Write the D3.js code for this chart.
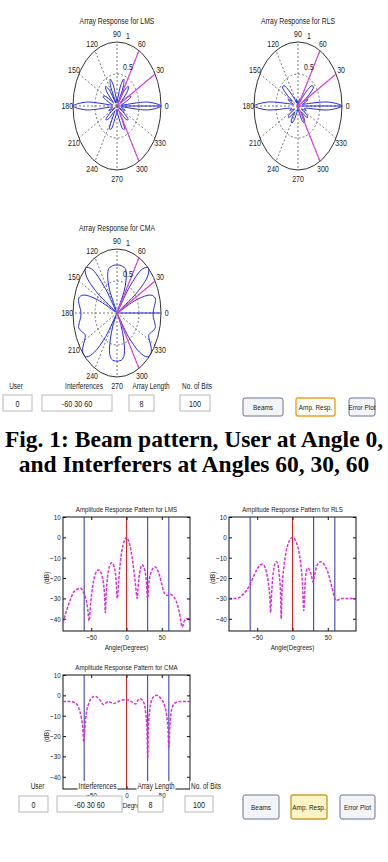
<!DOCTYPE html>
<html>
<head>
<meta charset="utf-8">
<script src="https://cdn.jsdelivr.net/npm/d3@7/dist/d3.min.js"></script>
<style>
  body { margin: 0; background: #fff; }
  svg { display: block; }
</style>
</head>
<body>
<script>
// ---- values ----

// angles (deg) where the polar patterns were read; 90..270 is the mirror image
const polarAngles = [-90, -85, -80, -75, -70, -65, -60, -55, -50, -45, -40, -35, -30, -25, -20, -15, -10, -5, 0,
    5, 10, 15, 20, 25, 30, 35, 40, 45, 50, 55, 60, 65, 70, 75, 80, 85, 90];
const lmsPolar = [0.05, 0.1, 0.15, 0.25, 0.38, 0.4, 0.15, 0.1, 0.15, 0.3, 0.33, 0.2, 0.05, 0.15, 0.2, 0.12, 0.1, 0.7, 1,
    0.7, 0.1, 0.15, 0.25, 0.35, 0.3, 0.1, 0.2, 0.35, 0.4, 0.3, 0.05, 0.35, 0.45, 0.35, 0.15, 0.08, 0.05];
const rlsPolar = [0.03, 0.04, 0.06, 0.12, 0.2, 0.28, 0.3, 0.25, 0.12, 0.2, 0.28, 0.26, 0.1, 0.12, 0.2, 0.15, 0.2, 0.7, 1,
    0.7, 0.2, 0.1, 0.2, 0.25, 0.15, 0.3, 0.46, 0.45, 0.3, 0.12, 0.05, 0.1, 0.12, 0.08, 0.05, 0.03, 0.03];
const cmaPolar = [0.75, 0.75, 0.73, 0.65, 0.45, 0.22, 0.04, 0.45, 0.8, 0.97, 1, 0.95, 0.85, 0.8, 0.85, 0.9, 0.87, 0.83, 0.82,
    0.84, 0.88, 0.9, 0.82, 0.5, 0.04, 0.55, 0.92, 1, 0.9, 0.5, 0.04, 0.4, 0.62, 0.72, 0.74, 0.75, 0.75];

// amplitude response (dB) against angle
const lmsAngles = [-90, -85, -80, -75, -70, -65, -61, -57, -55, -53, -51, -48, -45, -42, -39, -36, -33, -31, -30, -29,
    -27, -24, -21, -18, -15, -13, -11, -8, -5, -2, 0, 2, 5, 8, 11, 13, 15, 17, 20, 22, 25, 28, 30, 32, 35, 38, 41, 44,
    47, 50, 53, 55, 58, 62, 65, 70, 75, 79, 82, 86, 90];
const lmsDb = [-42, -36, -31, -27, -25.5, -25, -27, -31, -35, -41, -33, -24, -19, -16.5, -16, -17.5, -22, -29, -37, -29,
    -20, -14, -12.5, -14, -20, -30, -21, -10, -4, -0.8, 0, -0.8, -4, -10, -18, -24, -30, -22, -15, -13.5, -15, -21, -30,
    -22, -17, -15, -14.5, -16, -19, -23, -27, -28, -28.5, -28, -28.5, -31, -37, -44, -41, -40, -40];

const rlsAngles = [-90, -85, -80, -75, -70, -65, -60, -55, -50, -46, -43, -40, -37, -34, -32, -31, -30, -28, -25, -23,
    -21, -19, -17, -16, -15, -12, -9, -6, -3, 0, 3, 6, 9, 12, 14, 16, 18, 20, 22, 24, 27, 29, 31, 34, 37, 40, 43, 46,
    50, 54, 57, 60, 62, 66, 70, 80, 90];
const rlsDb = [-30, -30, -30, -29.5, -28, -26, -23, -19, -15.5, -13.5, -13.2, -14, -17, -23, -30, -37, -30, -20, -13, -12,
    -13, -18, -27, -40, -27, -14, -7, -3, -0.8, 0, -0.8, -3, -7, -14, -22, -36, -22, -16, -15, -16, -19, -22, -19, -14.5,
    -12.5, -12, -12.5, -14, -17, -22, -26, -30, -31, -30.5, -30, -30, -30];

const cmaAngles = [-90, -80, -74, -70, -67, -64, -62, -60.5, -59, -57, -54, -50, -46, -43, -40, -36, -33, -30, -26, -22,
    -18, -14, -10, -6, -2, 2, 6, 10, 13, 16, 19, 22, 25, 27, 29, 30, 31, 33, 36, 40, 43, 46, 50, 54, 57, 59, 60, 61,
    63, 66, 70, 76, 90];
const cmaDb = [-3, -3, -3.5, -4.5, -7, -11, -16, -23, -16, -9, -4.5, -1.5, -0.5, -0.6, -1.5, -3, -4.5, -4, -3, -3.5,
    -4, -3.5, -2.8, -2.3, -2.2, -2.3, -2.8, -3.8, -4.3, -2.5, -1.6, -2.2, -4, -8, -16, -31, -16, -7, -2, -0.3,
    0, -0.5, -2.2, -5, -10, -18, -26, -18, -9, -5, -3.5, -3, -3];

const userAngle = [0];
const interfererAngles = [-60, 30, 60];

const ringTicks = [0.5, 1];
const spokeAngles = [0, 30, 60, 90, 120, 150, 180, 210, 240, 270, 300, 330];
const dbTicks = [10, 0, -10, -20, -30, -40];
const angleTicks = [-50, 0, 50];

const controlLabels = ["User", "Interferences", "Array Length", "No. of Bits"];
const controlValues = ["0", "-60 30 60", "8", "100"];
const buttonLabels = ["Beams", "Amp. Resp.", "Error Plot"];
const captionLines = ["Fig. 1: Beam pattern, User at Angle 0,", "and Interferers at Angles 60, 30, 60"];

// ---- drawing ----
const polarRx = 44;
const polarRy = 64;
const ampW = 127;
const ampH = 114;
const narrow = 0.74;
const sansFont = "'Liberation Sans', Arial, sans-serif";

const svg = d3.select("body")
    .append("svg")
    .attr("width", 388)
    .attr("height", 862);

const label = (x, y, s, size, anchor = "middle", sx = narrow) => {
    return svg.append("text")
        .attr("transform", `translate(${x},${y}) scale(${sx},1)`)
        .attr("text-anchor", anchor)
        .attr("font-family", sansFont)
        .attr("font-size", size)
        .attr("fill", "#222")
        .text(s);
};

const drawPolar = (cx, cy, title, values) => {
    const xs = d3.scaleLinear().domain([-1, 1]).range([cx - polarRx, cx + polarRx]);
    const ys = d3.scaleLinear().domain([-1, 1]).range([cy + polarRy, cy - polarRy]);
    const px = (deg, r) => xs(r * Math.cos(deg * Math.PI / 180));
    const py = (deg, r) => ys(r * Math.sin(deg * Math.PI / 180));
    const g = svg.append("g");

    // rings, outer one solid
    ringTicks.forEach(t => {
        g.append("ellipse")
            .attr("cx", xs(0))
            .attr("cy", ys(0))
            .attr("rx", xs(t) - xs(0))
            .attr("ry", ys(0) - ys(t))
            .attr("fill", "none")
            .attr("stroke", t === 1 ? "#333" : "#555")
            .attr("stroke-width", t === 1 ? 1 : 0.8)
            .attr("stroke-dasharray", t === 1 ? null : "2,2");
    });

    // spokes and angle labels
    spokeAngles.forEach(a => {
        g.append("line")
            .attr("x1", px(a, 0)).attr("y1", py(a, 0))
            .attr("x2", px(a, 1)).attr("y2", py(a, 1))
            .attr("stroke", "#555")
            .attr("stroke-width", 0.8)
            .attr("stroke-dasharray", "2,2");
        label(px(a, 1.13), py(a, 1.13) + 3.4, String(a), 9.5);
    });
    ringTicks.forEach(t => label(px(82, t) + 3, py(82, t) - 4, String(t), 9.5, "start"));

    // pattern: read half plus its mirror (180 - angle)
    const half = polarAngles.map((a, i) => [a, values[i]]);
    const mirror = polarAngles.map((a, i) => [180 - a, values[i]]).reverse().slice(1, -1);
    const line = d3.line()
        .x(d => px(d[0], d[1]))
        .y(d => py(d[0], d[1]))
        .curve(d3.curveCatmullRomClosed);
    g.append("path")
        .datum(half.concat(mirror))
        .attr("d", line)
        .attr("fill", "none")
        .attr("stroke", "#2a2ae0")
        .attr("stroke-width", 1);

    // user and interferer directions
    userAngle.forEach(a => {
        g.append("line")
            .attr("x1", px(a, 0)).attr("y1", py(a, 0))
            .attr("x2", px(a, 1)).attr("y2", py(a, 1))
            .attr("stroke", "#2a2ae0").attr("stroke-width", 1.2);
    });
    interfererAngles.forEach(a => {
        g.append("line")
            .attr("x1", px(a, 0)).attr("y1", py(a, 0))
            .attr("x2", px(a, 1)).attr("y2", py(a, 1))
            .attr("stroke", "#e040e0").attr("stroke-width", 1.1);
    });

    label(cx, cy - 82, title, 9.5, "middle", 0.72);
};

const drawAmp = (x0, y0, title, angles, values) => {
    const xs = d3.scaleLinear().domain([-90, 90]).range([x0, x0 + ampW]);
    const ys = d3.scaleLinear().domain([-46, 10]).range([y0 + ampH, y0]);
    const g = svg.append("g");

    g.append("rect")
        .attr("x", x0).attr("y", y0)
        .attr("width", ampW).attr("height", ampH)
        .attr("fill", "#fff")
        .attr("stroke", "#111");

    // vertical markers
    userAngle.forEach(a => {
        g.append("line")
            .attr("x1", xs(a)).attr("x2", xs(a))
            .attr("y1", y0).attr("y2", y0 + ampH)
            .attr("stroke", "#e02020").attr("stroke-width", 1);
    });
    interfererAngles.forEach(a => {
        g.append("line")
            .attr("x1", xs(a)).attr("x2", xs(a))
            .attr("y1", y0).attr("y2", y0 + ampH)
            .attr("stroke", "#2a30b0").attr("stroke-width", 1);
    });

    const line = d3.line()
        .x((d, i) => xs(angles[i]))
        .y(d => ys(d))
        .curve(d3.curveMonotoneX);
    g.append("path")
        .datum(values)
        .attr("d", line)
        .attr("fill", "none")
        .attr("stroke", "#d830d8")
        .attr("stroke-width", 1.5)
        .attr("stroke-dasharray", "3,1.5");

    // axes, ticks pointing inwards
    const styleAxis = sel => {
        sel.select(".domain").remove();
        sel.selectAll("line").attr("stroke", "#111");
        sel.attr("font-size", 8).attr("font-family", sansFont);
        sel.selectAll("text").attr("fill", "#222").attr("transform", `scale(${0.78},1)`);
    };
    g.append("g")
        .attr("transform", `translate(0,${y0 + ampH})`)
        .call(d3.axisBottom(xs).tickValues(angleTicks).tickSizeInner(-3).tickSizeOuter(0).tickPadding(3))
        .call(styleAxis);
    g.append("g")
        .attr("transform", `translate(0,${y0})`)
        .call(d3.axisTop(xs).tickValues(angleTicks).tickSizeInner(-3).tickSizeOuter(0).tickFormat(""))
        .call(styleAxis);
    g.append("g")
        .attr("transform", `translate(${x0},0)`)
        .call(d3.axisLeft(ys).tickValues(dbTicks).tickSizeInner(-3).tickSizeOuter(0).tickPadding(3))
        .call(styleAxis);
    g.append("g")
        .attr("transform", `translate(${x0 + ampW},0)`)
        .call(d3.axisRight(ys).tickValues(dbTicks).tickSizeInner(-3).tickSizeOuter(0).tickFormat(""))
        .call(styleAxis);

    svg.append("text")
        .attr("transform", `translate(${x0 - 14},${y0 + ampH / 2 + 4}) rotate(-90) scale(0.8,1)`)
        .attr("text-anchor", "middle")
        .attr("font-family", sansFont)
        .attr("font-size", 8)
        .attr("fill", "#222")
        .text("(dB)");
    label(x0 + ampW / 2, y0 + ampH + 19, "Angle(Degrees)", 8, "middle", 0.78);
    label(x0 + ampW / 2, y0 - 5, title, 7.5, "middle", 0.82);
};

const drawControls = (labelY, labelXs, boxY, boxXs, btnY, btnH, btnXs, ampFill, ampStroke, labelBg) => {
    controlLabels.forEach((s, i) => {
        const t = label(labelXs[i], labelY, s, 9, "middle", 0.72);
        if (labelBg) {
            const b = t.node().getBoundingClientRect();
            svg.insert("rect", () => t.node())
                .attr("x", b.x - 1).attr("y", b.y)
                .attr("width", b.width + 2).attr("height", b.height)
                .attr("fill", "#fff");
        }
    });
    controlValues.forEach((s, i) => {
        svg.append("rect")
            .attr("x", boxXs[i][0]).attr("y", boxY)
            .attr("width", boxXs[i][1] - boxXs[i][0]).attr("height", 16)
            .attr("fill", "#fff")
            .attr("stroke", "#b8b8b8");
        label((boxXs[i][0] + boxXs[i][1]) / 2, boxY + 11.5, s, 9, "middle", 0.8);
    });
    buttonLabels.forEach((s, i) => {
        const isAmp = i === 1;
        svg.append("rect")
            .attr("x", btnXs[i][0]).attr("y", btnY)
            .attr("width", btnXs[i][1] - btnXs[i][0]).attr("height", btnH)
            .attr("rx", 2)
            .attr("fill", isAmp ? ampFill : "#f3f4f8")
            .attr("stroke", isAmp ? ampStroke : "#6a7494")
            .attr("stroke-width", isAmp ? 1.4 : 1);
        label((btnXs[i][0] + btnXs[i][1]) / 2, btnY + btnH / 2 + 3, s, 8, "middle", 0.8);
    });
};

// polar beam patterns
drawPolar(117, 106, "Array Response for LMS", lmsPolar);
drawPolar(298, 106, "Array Response for RLS", rlsPolar);
drawPolar(117, 313, "Array Response for CMA", cmaPolar);

// first GUI strip
drawControls(389, [16, 84, 151, 197], 395, [[3, 32], [42, 112], [129, 154], [180, 210]],
    398, 18, [[243, 283], [296, 335], [349, 375]], "#fffef4", "#f0a020", false);

// caption
captionLines.forEach((s, i) => {
    svg.append("text")
        .attr("x", 194)
        .attr("y", 447 + i * 25)
        .attr("text-anchor", "middle")
        .attr("font-family", "'Liberation Serif', 'Times New Roman', serif")
        .attr("font-weight", "bold")
        .attr("font-size", 23.5)
        .attr("fill", "#000")
        .text(s);
});

// amplitude response plots
drawAmp(63, 517, "Amplitude Response Pattern for LMS", lmsAngles, lmsDb);
drawAmp(229, 517, "Amplitude Response Pattern for RLS", rlsAngles, rlsDb);
drawAmp(63, 675, "Amplitude Response Pattern for CMA", cmaAngles, cmaDb);

// second GUI strip, sits over the bottom of the CMA plot
drawControls(789, [37.5, 97.5, 156, 206], 796, [[19, 48], [57, 122], [138, 163], [185, 213]],
    795, 24, [[243, 279], [291, 327], [340, 375]], "#fbf5c6", "#c8a030", true);
</script>
</body>
</html>
